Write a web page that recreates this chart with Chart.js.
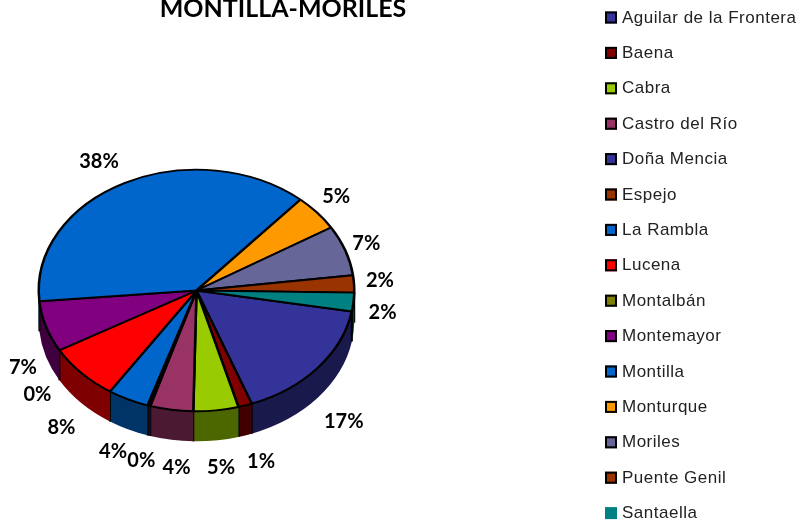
<!DOCTYPE html>
<html>
<head>
<meta charset="utf-8">
<style>
    html, body { margin: 0; background: #fff; }
    canvas { display: block; }
</style>
<script src="https://cdn.jsdelivr.net/npm/chart.js@4/dist/chart.umd.min.js"></script>
</head>
<body>
<canvas id="pieChart" width="801" height="524"></canvas>
<script>
// Data
const chartTitle = 'MONTILLA-MORILES';
const towns = ['Aguilar de la Frontera', 'Baena', 'Cabra', 'Castro del Río', 'Doña Mencia', 'Espejo', 'La Rambla',
    'Lucena', 'Montalbán', 'Montemayor', 'Montilla', 'Monturque', 'Moriles', 'Puente Genil', 'Santaella'];
const shares = [16.5, 1.4, 4.6, 4.4, 0.2, 0.1, 4.2, 7.5, 0, 6.8, 37.8, 4.8, 6.7, 2.3, 2.49];
const townColors = ['#333399', '#800000', '#99CC00', '#993366', '#333399', '#993300', '#0066CC',
    '#FF0000', '#808000', '#800080', '#0066CC', '#FF9900', '#666699', '#993300', '#008080'];

// Where the percent labels sit, relative to the rim of their slice. null = not shown
const labelNudges = [[26, 54], [16, 56], [5, 57], [5, 58], [-8, 55], null, [-15, 52],
    [-20, 54], [-22, 44], [-23, 41], [-26, -21], [19, -16], [21, -7], [26, -3], [29, 10]];

const squash = 121 / 158;
const depth = 30;

// Darker colour for the side of the pie
function darken(hex) {
    const n = parseInt(hex.slice(1), 16);
    const r = (n >> 16) >> 1, g = ((n >> 8) & 255) >> 1, b = (n & 255) >> 1;
    return `rgb(${r},${g},${b})`;
}

// Side walls, drawn before the flattened top
function drawWalls(ctx, arcs) {
    const TWO_PI = Math.PI * 2;
    ctx.lineWidth = 2;
    ctx.strokeStyle = '#000';
    arcs.forEach((arc, i) => {
        const rx = arc.outerRadius;
        const ry = rx * squash;
        let a0 = ((arc.startAngle % TWO_PI) + TWO_PI) % TWO_PI;
        let a1 = a0 + (arc.endAngle - arc.startAngle);
        // also try the next turn, a slice can cross the right side of the pie
        [0, -TWO_PI].forEach(shift => {
            const from = Math.max(a0 + shift, 0);
            const to = Math.min(a1 + shift, Math.PI);
            if (to <= from) return;
            ctx.beginPath();
            ctx.ellipse(arc.x, arc.y, rx, ry, 0, from, to);
            ctx.ellipse(arc.x, arc.y + depth, rx, ry, 0, to, from, true);
            ctx.closePath();
            ctx.fillStyle = darken(townColors[i]);
            ctx.fill();
            // seam at the end of the slice
            if (to < Math.PI) {
                const x = arc.x + rx * Math.cos(to);
                const y = arc.y + ry * Math.sin(to);
                ctx.beginPath();
                ctx.moveTo(x, y);
                ctx.lineTo(x, y + depth);
                ctx.stroke();
            }
        });
    });
}

const pie3d = {
    id: 'pie3d',
    beforeDatasetDraw(chart, args) {
        const ctx = chart.ctx;
        const arcs = args.meta.data;
        ctx.save();
        drawWalls(ctx, arcs);
        ctx.translate(arcs[0].x, arcs[0].y);
        ctx.scale(1, squash);
        ctx.translate(-arcs[0].x, -arcs[0].y);
    },
    afterDatasetDraw(chart) {
        chart.ctx.restore();
    },
    afterDraw(chart) {
        const ctx = chart.ctx;
        const arcs = chart.getDatasetMeta(0).data;
        ctx.save();
        ctx.textBaseline = 'middle';

        // Title, cut by the top of the image like the original
        ctx.fillStyle = '#000';
        ctx.textAlign = 'center';
        ctx.font = 'bold 25px Lato';
        ctx.fillText(chartTitle, 283, 9);

        // Percent labels
        ctx.font = 'bold 20px Lato';
        const total = shares.reduce((a, b) => a + b, 0);
        arcs.forEach((arc, i) => {
            if (!labelNudges[i]) return;
            const mid = (arc.startAngle + arc.endAngle) / 2;
            const x = arc.x + arc.outerRadius * Math.cos(mid) + labelNudges[i][0];
            const y = arc.y + arc.outerRadius * squash * Math.sin(mid) + labelNudges[i][1];
            ctx.fillText(Math.round(shares[i] / total * 100) + '%', x, y);
        });

        // Legend
        ctx.textAlign = 'left';
        ctx.font = '17px "Liberation Sans"';
        ctx.letterSpacing = '0.5px';
        towns.forEach((town, i) => {
            const y = 17.5 + i * 35.4;
            ctx.fillStyle = townColors[i];
            ctx.fillRect(605, y - 6, 12, 12);
            if (i < towns.length - 1) {
                ctx.strokeStyle = '#000';
                ctx.lineWidth = 2;
                ctx.strokeRect(606, y - 5, 10, 10);
            }
            ctx.fillStyle = '#222';
            ctx.fillText(town, 622, y + 0.5);
        });
        ctx.restore();
    }
};

new Chart(document.getElementById('pieChart'), {
    type: 'pie',
    data: {
        labels: towns,
        datasets: [{
            data: shares,
            backgroundColor: townColors,
            borderColor: '#000',
            borderWidth: 2.5
        }]
    },
    options: {
        responsive: false,
        animation: false,
        rotation: 100,
        layout: { padding: { left: 37.5, right: 445.5, top: 131.5, bottom: 74.5 } },
        plugins: {
            legend: { display: false },
            tooltip: { enabled: false }
        }
    },
    plugins: [pie3d]
});
</script>
</body>
</html>
